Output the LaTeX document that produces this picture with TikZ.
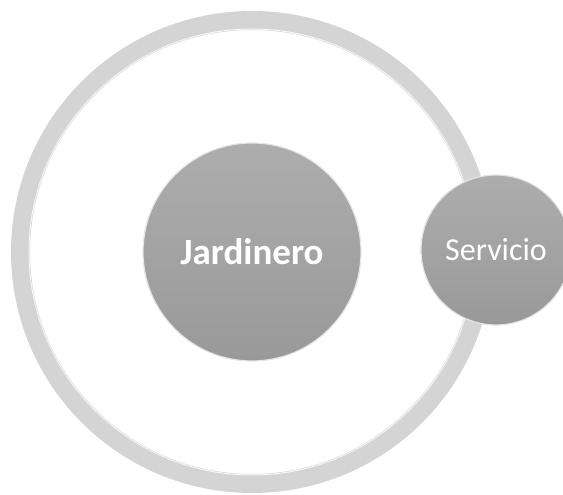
\documentclass[tikz,border=0pt]{standalone}
\usepackage{fontspec}
\setmainfont{Carlito}
\usepackage{tikz}
\usetikzlibrary{positioning}

\definecolor{ringgray}{HTML}{D4D4D4}
\definecolor{balltop}{HTML}{ADADAD}
\definecolor{ballbot}{HTML}{999999}

\begin{document}
\begin{tikzpicture}[x=1pt,y=1pt,node distance=244pt,on grid,
    ball/.style={circle,draw=white!80!gray,line width=1.2pt,
        top color=balltop,bottom color=ballbot,text=white,inner sep=0pt}]
   \useasboundingbox (0,0) rectangle (563,495);
   \node[circle,draw=ringgray,line width=19pt,minimum size=463pt] (ring) at (252,243) {};
   \node[circle,draw=white!92!gray,line width=1pt,minimum size=446pt] (rim) at (ring) {};
   \node[ball,minimum size=218pt,font=\fontsize{37}{44}\selectfont\bfseries] (jard) at (ring) {Jardinero};
   \node[ball,minimum size=150pt,font=\fontsize{32}{38}\selectfont] (serv) [right=of ring,yshift=2pt] {Servicio};
\end{tikzpicture}
\end{document}
